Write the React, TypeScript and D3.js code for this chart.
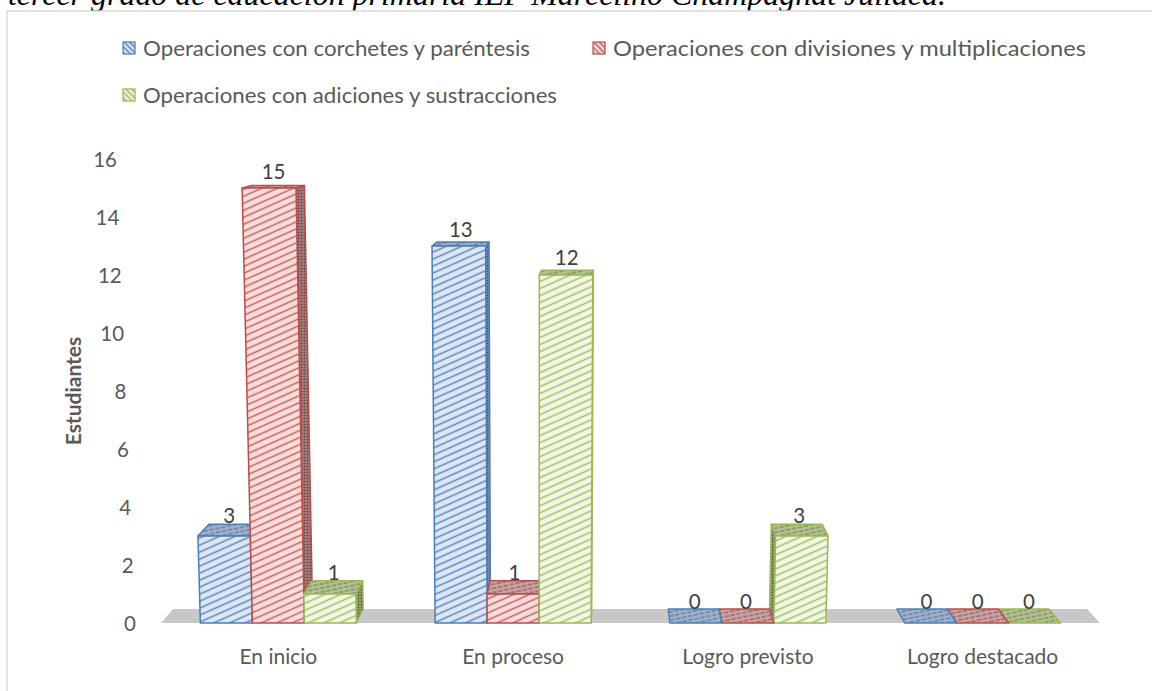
import React from 'react';
import * as d3 from 'd3';

// ---------------- data ----------------
const titleText = 'tercer grado de educación primaria IEP Marcelino Champagnat Juliaca.';
const categories = ['En inicio', 'En proceso', 'Logro previsto', 'Logro destacado'];
const seriesNames = [
  'Operaciones con corchetes y paréntesis',
  'Operaciones con divisiones y multiplicaciones',
  'Operaciones con adiciones y sustracciones',
];
const corchetesValues = [3, 13, 0, 0];
const divisionesValues = [15, 1, 0, 0];
const adicionesValues = [1, 12, 3, 0];
const yTickValues = [0, 2, 4, 6, 8, 10, 12, 14, 16];
const yAxisTitle = 'Estudiantes';

const seriesValues = [corchetesValues, divisionesValues, adicionesValues];

// ---------------- styles ----------------
const seriesStyles = [
  { border: '#4a7ebb', frontBg: '#dde7f4', stripe: '#5b86c0', topBg: '#9fb3cf', topStripe: '#4e6585', sideBg: '#7688a3', sideDot: '#3f4f68' },
  { border: '#be4b48', frontBg: '#f7dedd', stripe: '#c9605d', topBg: '#c9a4a3', topStripe: '#7f4a48', sideBg: '#a07a79', sideDot: '#5d3b3a' },
  { border: '#98b954', frontBg: '#f1f6e5', stripe: '#a2c064', topBg: '#b3c295', topStripe: '#667840', sideBg: '#8c9a72', sideDot: '#4f5a3a' },
];
const FONT = 'Lato, "Open Sans", "DejaVu Sans", sans-serif';
const TEXT = '#595959';

// ---------------- geometry ----------------
const W = 1152;
const H = 691;
const y = d3.scaleLinear().domain([0, 16]).range([623, 159]);
const axisLabelX = d3.scaleLinear().domain([0, 16]).range([136, 117]);
const x0 = d3.scaleBand<string>().domain(categories).range([161, 1100]).paddingInner(0).paddingOuter(0);
const x1 = d3
  .scaleBand<number>()
  .domain(seriesNames.map((_, i) => i))
  .range([0, x0.bandwidth()])
  .paddingInner(0)
  .paddingOuter(0.757);

const BASE = y(0);
const VPX = 612; // depth vanishing point
const VPY = 97;
const SHRINK = 0.0266; // depth shrink factor at full depth
const VX = 533; // vertical tilt centre
const K = 8.4e-5; // vertical tilt amount

function proj(X: number, h: number, z: number): [number, number] {
  const xa = X + (X - VX) * K * h;
  const ya = BASE - h;
  const s = 1 - z * SHRINK;
  return [VPX + (xa - VPX) * s, VPY + (ya - VPY) * s];
}
const pts = (a: [number, number][]) => a.map((p) => p.map((v) => v.toFixed(2)).join(',')).join(' ');

type Bar = { c: number; s: number; v: number; L: number; R: number };
const bars: Bar[] = [];
categories.forEach((cat, c) => {
  seriesValues.forEach((vals, s) => {
    const L = (x0(cat) as number) + (x1(s) as number);
    bars.push({ c, s, v: vals[c], L, R: L + x1.bandwidth() });
  });
});
const drawOrder = [...bars].sort(
  (a, b) => Math.abs((b.L + b.R) / 2 - VPX) - Math.abs((a.L + a.R) / 2 - VPX)
);

export default function App() {
  const floorLeft = x0.range()[0];
  const floorRight = x0.range()[1];
  const floor = [proj(floorLeft, 0, 0), proj(floorRight, 0, 0), proj(floorRight, 0, 1), proj(floorLeft, 0, 1)];

  const legendItems = [
    { s: 0, x: 123, y: 48 },
    { s: 1, x: 593, y: 48 },
    { s: 2, x: 123, y: 95 },
  ];
  const legendLengths = [387, 473, 414];

  return (
    <svg width={W} height={H} style={{ position: 'absolute', left: 0, top: 0, background: '#fff' }}>
      <defs>
        {seriesStyles.map((st, i) => (
          <React.Fragment key={i}>
            <pattern id={`front-${i}`} patternUnits="userSpaceOnUse" width={7} height={6.4} patternTransform="rotate(-24)">
              <rect width={7} height={6.4} fill={st.frontBg} />
              <line x1={0} y1={3.2} x2={7} y2={3.2} stroke={st.stripe} strokeWidth={1.5} />
            </pattern>
            <pattern id={`top-${i}`} patternUnits="userSpaceOnUse" width={6} height={4} patternTransform="rotate(-12)">
              <rect width={6} height={4} fill={st.topBg} />
              <line x1={0} y1={2} x2={6} y2={2} stroke={st.topStripe} strokeWidth={1.2} strokeDasharray="3 1.5" />
            </pattern>
            <pattern id={`side-${i}`} patternUnits="userSpaceOnUse" width={3} height={3}>
              <rect width={3} height={3} fill={st.sideBg} />
              <circle cx={1.5} cy={1.5} r={0.8} fill={st.sideDot} />
            </pattern>
            <pattern id={`leg-${i}`} patternUnits="userSpaceOnUse" width={4} height={4} patternTransform="rotate(45)">
              <rect width={4} height={4} fill={st.frontBg} />
              <line x1={0} y1={2} x2={4} y2={2} stroke={st.stripe} strokeWidth={1.6} />
            </pattern>
          </React.Fragment>
        ))}
      </defs>

      {/* document title fragment (cut off at top) */}
      <text
        x={8}
        y={4.5}
        fontFamily='"Liberation Serif", "Times New Roman", serif'
        fontStyle="italic"
        fontSize={32}
        textLength={938}
        fill="#000"
      >
        {titleText}
      </text>

      {/* chart frame */}
      <rect x={7} y={11} width={W + 10} height={H + 10} fill="#fff" stroke="#d9d9d9" strokeWidth={1.5} />

      {/* legend */}
      {legendItems.map((it) => (
        <g key={it.s}>
          <rect x={it.x} y={it.y - 6} width={12} height={12} fill={`url(#leg-${it.s})`} stroke={seriesStyles[it.s].border} strokeWidth={1.2} />
          <text
            x={it.x + 20}
            y={it.y}
            dominantBaseline="central"
            fontFamily={FONT}
            fontSize={21.5}
            fill={TEXT}
            textLength={legendLengths[it.s]}
            lengthAdjust="spacingAndGlyphs"
          >
            {seriesNames[it.s]}
          </text>
        </g>
      ))}

      {/* y axis labels */}
      {yTickValues.map((v) => (
        <text key={v} x={axisLabelX(v)} y={y(v)} textAnchor="end" dominantBaseline="central" fontFamily={FONT} fontSize={20.5} fill={TEXT}>
          {v}
        </text>
      ))}
      <text
        transform={`translate(72, ${(y(0) + y(16)) / 2}) rotate(-90)`}
        textAnchor="middle"
        dominantBaseline="central"
        fontFamily={FONT}
        fontWeight="bold"
        fontSize={21}
        fill={TEXT}
      >
        {yAxisTitle}
      </text>

      {/* floor */}
      <polygon points={pts(floor)} fill="#c8c8c8" />

      {/* bars */}
      {drawOrder.map((b) => {
        const st = seriesStyles[b.s];
        const h = BASE - y(b.v);
        const top = [proj(b.L, h, 0), proj(b.R, h, 0), proj(b.R, h, 1), proj(b.L, h, 1)];
        const key = `${b.c}-${b.s}`;
        if (h <= 0) {
          return (
            <polygon key={key} points={pts(top)} fill={`url(#top-${b.s})`} stroke={st.border} strokeWidth={1.5} strokeLinejoin="round" />
          );
        }
        const front = [proj(b.L, 0, 0), proj(b.R, 0, 0), proj(b.R, h, 0), proj(b.L, h, 0)];
        const sideX = (b.L + b.R) / 2 < VPX ? b.R : b.L;
        const side = [proj(sideX, 0, 0), proj(sideX, h, 0), proj(sideX, h, 1), proj(sideX, 0, 1)];
        return (
          <g key={key} stroke={st.border} strokeWidth={1.5} strokeLinejoin="round">
            <polygon points={pts(side)} fill={`url(#side-${b.s})`} />
            <polygon points={pts(top)} fill={`url(#top-${b.s})`} />
            <polygon points={pts(front)} fill={`url(#front-${b.s})`} />
          </g>
        );
      })}

      {/* data labels */}
      {bars.map((b) => {
        const h = BASE - y(b.v);
        const cx = (b.L + b.R) / 2;
        const f = proj(cx, h, 0);
        const bk = proj(cx, h, 1);
        return (
          <text
            key={`l-${b.c}-${b.s}`}
            x={(f[0] + bk[0]) / 2}
            y={(f[1] + bk[1]) / 2 - 15.5}
            textAnchor="middle"
            dominantBaseline="central"
            fontFamily={FONT}
            fontSize={20.5}
            fill="#404040"
          >
            {b.v}
          </text>
        );
      })}

      {/* category labels */}
      {categories.map((c) => (
        <text
          key={c}
          x={(x0(c) as number) + x0.bandwidth() / 2}
          y={655}
          textAnchor="middle"
          dominantBaseline="central"
          fontFamily={FONT}
          fontSize={21}
          fill={TEXT}
        >
          {c}
        </text>
      ))}
    </svg>
  );
}
